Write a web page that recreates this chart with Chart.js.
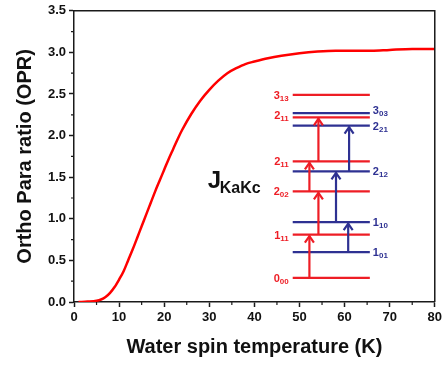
<!DOCTYPE html>
<html>
<head>
<meta charset="utf-8">
<script src="https://cdn.jsdelivr.net/npm/chart.js@4.4.0/dist/chart.umd.min.js"></script>
<style>
  html, body { margin: 0; padding: 0; background: #fff; }
</style>
</head>
<body>
<canvas id="oprChart" width="445" height="366"></canvas>
<script>
// OPR vs water spin temperature
const temps = [1, 3, 5, 6, 7, 8, 9, 10, 11, 12, 13, 14, 15, 16, 17, 18, 19, 20, 21, 22, 23, 24, 26, 28, 30, 32, 34, 36, 38, 40, 43, 46, 50, 54, 58, 62, 66, 70, 75, 80];
const opr = [0, 0.005, 0.015, 0.03, 0.06, 0.11, 0.18, 0.27, 0.37, 0.5, 0.63, 0.77, 0.91, 1.05, 1.19, 1.33, 1.46, 1.59, 1.72, 1.84, 1.96, 2.07, 2.26, 2.42, 2.55, 2.66, 2.75, 2.81, 2.86, 2.89, 2.93, 2.96, 2.99, 3.01, 3.02, 3.02, 3.02, 3.03, 3.04, 3.04];

// inset: rotational levels J_KaKc (heights in plot units)
const paraNames = ['0|00', '1|11', '2|02', '2|11', '2|11', '3|13'];
const paraLevels = [0.29, 0.81, 1.33, 1.69, 2.22, 2.49];
const orthoNames = ['1|01', '1|10', '2|12', '2|21', '3|03'];
const orthoLevels = [0.60, 0.96, 1.57, 2.12, 2.27];
// transitions: [from index, to index, temperature position]
const paraArrows = [[0, 1, 52.2], [1, 2, 54.2], [2, 3, 52.2], [3, 4, 54.2]];
const orthoArrows = [[0, 1, 60.8], [1, 2, 58.1], [2, 3, 61.0]];

const RED = '#ee1d25';
const BLUE = '#2e3192';
const AXIS = '#1a1a1a';

function subLabel(ctx, text, px, py, align, color) {
  const [main, sub] = text.split('|');
  ctx.fillStyle = color;
  ctx.textBaseline = 'alphabetic';
  ctx.font = 'bold 11px Arial';
  const w1 = ctx.measureText(main).width;
  ctx.font = 'bold 8px Arial';
  const w2 = ctx.measureText(sub).width;
  const start = align === 'right' ? px - w1 - w2 : px;
  ctx.textAlign = 'left';
  ctx.font = 'bold 11px Arial';
  ctx.fillText(main, start, py + 4);
  ctx.font = 'bold 8px Arial';
  ctx.fillText(sub, start + w1, py + 6);
}

function arrow(ctx, xp, y0, y1, color) {
  ctx.strokeStyle = color;
  ctx.lineWidth = 2.2;
  ctx.beginPath();
  ctx.moveTo(xp, y0);
  ctx.lineTo(xp, y1 + 1);
  ctx.stroke();
  ctx.beginPath();
  ctx.moveTo(xp - 4.5, y1 + 8);
  ctx.lineTo(xp, y1 + 1.5);
  ctx.lineTo(xp + 4.5, y1 + 8);
  ctx.stroke();
}

const insetPlugin = {
  id: 'inset',
  afterDraw(chart) {
    const { ctx, chartArea: a, scales: { x, y } } = chart;
    ctx.save();
    // frame top and right
    ctx.strokeStyle = AXIS;
    ctx.lineWidth = 1.5;
    ctx.beginPath();
    ctx.moveTo(a.left, a.top);
    ctx.lineTo(a.right, a.top);
    ctx.lineTo(a.right, a.bottom);
    ctx.stroke();
    // minor ticks
    ctx.lineWidth = 1.2;
    ctx.beginPath();
    for (let v = 5; v < 80; v += 10) {
      const p = x.getPixelForValue(v);
      ctx.moveTo(p, a.bottom);
      ctx.lineTo(p, a.bottom + 3);
    }
    for (let v = 0.25; v < 3.5; v += 0.5) {
      const p = y.getPixelForValue(v);
      ctx.moveTo(a.left, p);
      ctx.lineTo(a.left - 3, p);
    }
    ctx.stroke();

    // energy levels
    const x0 = x.getPixelForValue(48.5);
    const x1 = x.getPixelForValue(65.6);
    ctx.lineWidth = 2.2;
    paraLevels.forEach((lv) => {
      const p = y.getPixelForValue(lv);
      ctx.strokeStyle = RED;
      ctx.beginPath(); ctx.moveTo(x0, p); ctx.lineTo(x1, p); ctx.stroke();
    });
    orthoLevels.forEach((lv) => {
      const p = y.getPixelForValue(lv);
      ctx.strokeStyle = BLUE;
      ctx.beginPath(); ctx.moveTo(x0, p); ctx.lineTo(x1, p); ctx.stroke();
    });
    paraArrows.forEach(([f, t, tx]) => {
      arrow(ctx, x.getPixelForValue(tx), y.getPixelForValue(paraLevels[f]), y.getPixelForValue(paraLevels[t]), RED);
    });
    orthoArrows.forEach(([f, t, tx]) => {
      arrow(ctx, x.getPixelForValue(tx), y.getPixelForValue(orthoLevels[f]), y.getPixelForValue(orthoLevels[t]), BLUE);
    });

    // level labels
    paraNames.forEach((n, i) => {
      const nudge = i === 4 ? -2 : 0;
      subLabel(ctx, n, x0 - 4, y.getPixelForValue(paraLevels[i]) + nudge, 'right', RED);
    });
    orthoNames.forEach((n, i) => {
      const nudge = i === 4 ? -3 : 0;
      subLabel(ctx, n, x1 + 3, y.getPixelForValue(orthoLevels[i]) + nudge, 'left', BLUE);
    });

    // J_KaKc
    ctx.fillStyle = '#111';
    ctx.textAlign = 'left';
    ctx.font = 'bold 24px Arial';
    const jx = x0 - 85;
    const jy = y.getPixelForValue(paraLevels[2]) - 3;
    ctx.fillText('J', jx, jy);
    ctx.font = 'bold 16px Arial';
    ctx.fillText('KaKc', jx + 12, jy + 5);
    ctx.restore();
  }
};

new Chart(document.getElementById('oprChart'), {
  type: 'line',
  data: {
    datasets: [{
      data: temps.map((t, i) => ({ x: t, y: opr[i] })),
      borderColor: '#ff0000',
      borderWidth: 2.5,
      pointRadius: 0,
      cubicInterpolationMode: 'monotone',
      fill: false
    }]
  },
  options: {
    responsive: false,
    animation: false,
    layout: { padding: { top: 8, right: 10, left: 0, bottom: 0 } },
    plugins: { legend: { display: false }, tooltip: { enabled: false } },
    scales: {
      x: {
        type: 'linear',
        min: 0,
        max: 80,
        ticks: {
          stepSize: 10,
          color: '#111',
          padding: 3,
          maxRotation: 0,
          font: { family: 'Arial', weight: 'bold', size: 13 }
        },
        grid: { drawOnChartArea: false, tickLength: 5, tickWidth: 1.5, tickColor: AXIS },
        border: { color: AXIS, width: 1.5 },
        title: {
          display: true,
          text: 'Water spin temperature (K)',
          color: '#111',
          padding: { top: 0, bottom: 7 },
          font: { family: 'Arial', weight: 'bold', size: 20, lineHeight: 1.2 }
        },
        afterFit(scale) { scale.height = 64; }
      },
      y: {
        min: 0,
        max: 3.5,
        ticks: {
          stepSize: 0.5,
          color: '#111',
          padding: 3,
          callback: (v) => v.toFixed(1),
          font: { family: 'Arial', weight: 'bold', size: 13 }
        },
        grid: { drawOnChartArea: false, tickLength: 5, tickWidth: 1.5, tickColor: AXIS },
        border: { color: AXIS, width: 1.5 },
        title: {
          display: true,
          text: 'Ortho Para ratio (OPR)',
          color: '#111',
          padding: { top: 13, bottom: 0 },
          font: { family: 'Arial', weight: 'bold', size: 20, lineHeight: 1.2 }
        },
        afterFit(scale) { scale.width = 74; }
      }
    }
  },
  plugins: [insetPlugin]
});
</script>
</body>
</html>
